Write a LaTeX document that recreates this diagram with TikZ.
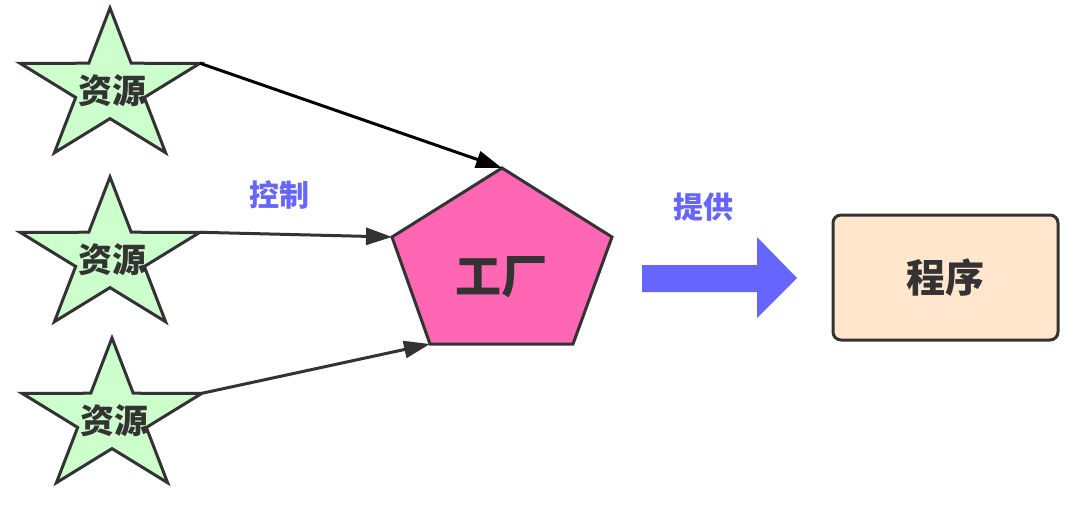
\documentclass[tikz,border=0pt]{standalone}
\usepackage{fontspec}
\setmainfont{Noto Sans CJK SC}
\usetikzlibrary{arrows.meta}
\definecolor{edge}{HTML}{333333}
\definecolor{stargreen}{HTML}{CCFFCC}
\definecolor{pink}{HTML}{FF66B3}
\definecolor{violet}{HTML}{6666FF}
\definecolor{peach}{HTML}{FFE6CC}
\tikzset{
  starline/.style={draw=edge, fill=stargreen, line width=3pt, line join=miter},
  restext/.style={text=edge, font=\bfseries\fontsize{34}{34}\selectfont},
  resstar/.pic={
    \draw[starline] (-90:94.6 and 80) -- (-54:36.1 and 30.6) -- (-18:94.6 and 80)
      -- (18:36.1 and 30.6) -- (54:94.6 and 80) -- (90:36.1 and 30.6)
      -- (126:94.6 and 80) -- (162:36.1 and 30.6) -- (198:94.6 and 80)
      -- (234:36.1 and 30.6) -- cycle;
    \coordinate (-tip) at (-18:94.6 and 80);
    \node[restext] (-label) at (2,3) {资源};
  },
  conn/.style={line width=3pt, draw=edge, -{Triangle[length=26pt, width=17pt]}},
  bluelabel/.style={text=violet, font=\bfseries\fontsize{30}{30}\selectfont},
}
\begin{document}
\begin{tikzpicture}[x=1pt, y=-1pt]
\useasboundingbox (0,0) rectangle (1080,511);
\fill[white] (0,0) rectangle (1080,511);

% stars
\pic (s1) at (110,88) {resstar};
\pic (s2) at (110,257) {resstar};
\pic (s3) at (112,418) {resstar};

% pentagon
\coordinate (ptop) at (502,168);
\coordinate (pright) at (612,237);
\coordinate (pbr) at (573,344);
\coordinate (pbl) at (430,344);
\coordinate (pleft) at (392,237);
\draw[draw=edge, fill=pink, line width=3pt, line join=miter] (ptop) -- (pright) -- (pbr) -- (pbl) -- (pleft) -- cycle;
\node[text=edge, font=\bfseries\fontsize{46}{46}\selectfont] (factory) at (501,277) {工厂};

% connectors
\draw[conn, draw=black] (s1-tip) -- (ptop);
\draw[conn] (s2-tip) -- (pleft);
\draw[conn] (s3-tip) -- (pbl);

\node[bluelabel] (ctrl) at (279,195) {控制};
\node[bluelabel] (give) at (703,207) {提供};

% big arrow
\coordinate (ba1) at (642,265);
\fill[violet] (ba1) -- (757,265) -- (757,237) -- (797,278) -- (757,318) -- (757,292) -- (642,292) -- cycle;

% program box
\node[draw=edge, fill=peach, line width=3pt, rounded corners=8pt,
      minimum width=225pt, minimum height=125pt, text=edge,
      font=\bfseries\fontsize{39}{39}\selectfont] (prog) at (945.5,277.5) {程序};
\end{tikzpicture}
\end{document}
